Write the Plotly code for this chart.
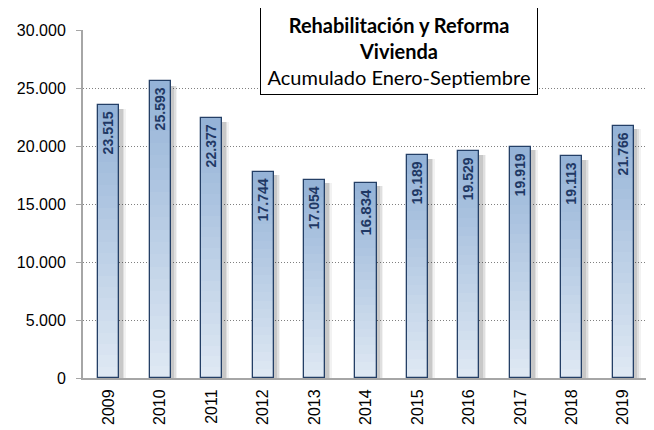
import plotly.graph_objects as go

years = ["2009", "2010", "2011", "2012", "2013", "2014", "2015", "2016", "2017", "2018", "2019"]
values = [23515, 25593, 22377, 17744, 17054, 16834, 19189, 19529, 19919, 19113, 21766]
y_ticks = [0, 5000, 10000, 15000, 20000, 25000, 30000]
title_lines = ["Rehabilitación y Reforma", "Vivienda", "Acumulado Enero-Septiembre"]

top_rgb = (149, 179, 215)
bot_rgb = (222, 232, 243)
N = 24
BW = 0.41

fig = go.Figure()

# drop shadow (soft, three layers)
for shift, alpha in [(0.13, 0.05), (0.10, 0.08), (0.07, 0.10)]:
    fig.add_trace(go.Bar(
        x=years, y=[v * 0.985 for v in values], width=BW, offset=-BW / 2 + shift,
        marker=dict(color="rgba(0,0,0,%.2f)" % alpha, line=dict(width=0)),
        hoverinfo="skip", showlegend=False))

# gradient layers
for k in range(N, 0, -1):
    t = (k - 1) / (N - 1)
    c = tuple(round(bot_rgb[i] + (top_rgb[i] - bot_rgb[i]) * t) for i in range(3))
    fig.add_trace(go.Bar(
        x=years, y=[v * k / N for v in values], width=BW,
        marker=dict(color="rgb(%d,%d,%d)" % c, line=dict(width=0)),
        hoverinfo="skip", showlegend=False))

# outline + labels
fig.add_trace(go.Bar(
    x=years, y=values, width=BW,
    marker=dict(color="rgba(0,0,0,0)", line=dict(color="#243f66", width=1.3)),
    text=["<b>" + f"{v:,}".replace(",", ".") + "</b> " for v in values],
    textposition="inside", insidetextanchor="end", textangle=-90,
    textfont=dict(family="Liberation Sans", size=16, color="#1f3864"),
    cliponaxis=False, showlegend=False))

# page body has an 8px margin; compensate so the plot area sits where the reference has it
fig.update_layout(
    width=646, height=422,
    margin=dict(l=75, r=5, t=22, b=52),
    barmode="overlay",
    separators=",.",
    plot_bgcolor="white", paper_bgcolor="white",
    font=dict(family="Liberation Sans", color="black"),
    bargap=0,
)
fig.update_yaxes(
    range=[0, 30000], tickvals=y_ticks, tickformat=",.0f", automargin=False,
    showgrid=True, gridcolor="#808080", griddash="1px,2px", gridwidth=1,
    showline=True, linecolor="#a6a6a6", linewidth=2,
    ticks="outside", ticklen=5, tickcolor="#a6a6a6", tickwidth=1,
    tickfont=dict(size=16, color="black"), zeroline=False, ticklabelstandoff=7,
)
fig.update_xaxes(
    tickangle=-90, tickfont=dict(size=16, color="black"), automargin=False,
    showline=True, linecolor="#a6a6a6", linewidth=2, ticks="",
    showgrid=False, ticklabelstandoff=3,
)
fig.add_annotation(
    xref="paper", yref="paper", x=0.559, y=0.94, xanchor="center", yanchor="middle",
    text="<b>%s</b><br><b>%s</b><br>%s" % tuple(title_lines),
    showarrow=False, align="center",
    font=dict(family="Lato", size=20, color="black"),
    bordercolor="black", borderwidth=1, bgcolor="white", borderpad=3,
    width=270, height=80,
)
fig.write_html("out.html")
